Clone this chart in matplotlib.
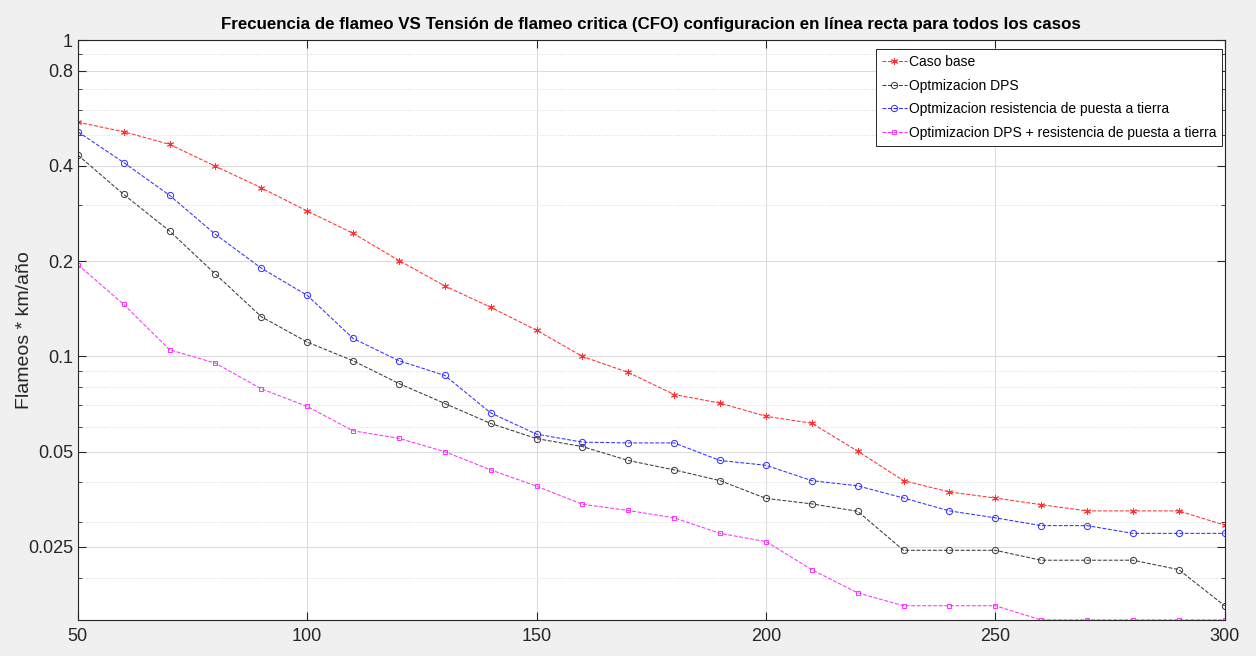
import matplotlib.pyplot as plt
import numpy as np
from matplotlib.ticker import FixedLocator, LogLocator, NullFormatter

# CFO values (kV) on x, flashover rate on y
cfo = [50, 60, 70, 80, 90, 100, 110, 120, 130, 140, 150, 160, 170,
       180, 190, 200, 210, 220, 230, 240, 250, 260, 270, 280, 290, 300]

caso_base = [0.550, 0.513, 0.468, 0.399, 0.341, 0.288, 0.245, 0.201, 0.167, 0.143,
             0.121, 0.100, 0.089, 0.0758, 0.0712, 0.0647, 0.0615, 0.0502, 0.0405,
             0.0373, 0.0357, 0.0340, 0.0325, 0.0325, 0.0325, 0.0293]
opt_dps = [0.433, 0.325, 0.249, 0.182, 0.1335, 0.111, 0.0969, 0.0821, 0.0710, 0.0614,
           0.0550, 0.0519, 0.0469, 0.0438, 0.0405, 0.0356, 0.0342, 0.0324, 0.0244,
           0.0244, 0.0244, 0.0227, 0.0227, 0.0227, 0.0212, 0.0163]
opt_rpt = [0.513, 0.410, 0.323, 0.243, 0.190, 0.156, 0.114, 0.0969, 0.0871, 0.0663,
           0.0568, 0.0536, 0.0533, 0.0533, 0.0469, 0.0453, 0.0405, 0.0390, 0.0357,
           0.0325, 0.0309, 0.0292, 0.0292, 0.0276, 0.0276, 0.0276]
opt_dps_rpt = [0.195, 0.146, 0.105, 0.0952, 0.0790, 0.0695, 0.0582, 0.0551, 0.0500,
               0.0438, 0.0389, 0.0341, 0.0326, 0.0309, 0.0276, 0.0260, 0.0212, 0.0179,
               0.0163, 0.0163, 0.0163, 0.0147, 0.0147, 0.0147, 0.0147, 0.0147]

labels = ["Caso base", "Optmizacion DPS", "Optmizacion resistencia de puesta a tierra",
          "Optimizacion DPS + resistencia de puesta a tierra"]
yticks = [0.025, 0.05, 0.1, 0.2, 0.4, 0.8, 1]
ytick_labels = ["0.025", "0.05", "0.1", "0.2", "0.4", "0.8", "1"]
xticks = [50, 100, 150, 200, 250, 300]

plt.rcParams["font.family"] = ["Liberation Sans", "DejaVu Sans"]

fig = plt.figure(figsize=(12.56, 6.56), dpi=100, facecolor="#f0f0f0")
ax = fig.add_axes([0.062, 0.055, 0.913, 0.884])

asterisk = (6, 2, 0)
ax.plot(cfo, caso_base, "--", marker=asterisk, color="#ff3030", lw=0.75, ms=5, mew=0.7, label=labels[0])
ax.plot(cfo, opt_dps, "--o", color="#3a3a3a", lw=0.75, ms=4.5, mfc="none", mew=0.7, label=labels[1])
ax.plot(cfo, opt_rpt, "--o", color="#3030ff", lw=0.75, ms=4.5, mfc="none", mew=0.7, label=labels[2])
ax.plot(cfo, opt_dps_rpt, "--s", color="#ff30ff", lw=0.75, ms=3.5, mfc="none", mew=0.7, label=labels[3])

ax.set_yscale("log")
ax.set_xlim(50, 300)
ax.set_ylim(min(opt_dps_rpt), 1)
ax.yaxis.set_major_locator(FixedLocator(yticks))
ax.set_yticklabels(ytick_labels)
ax.yaxis.set_minor_locator(LogLocator(base=10, subs=np.arange(2, 10)))
ax.yaxis.set_minor_formatter(NullFormatter())
ax.set_xticks(xticks)

ax.grid(True, which="major", color="#dcdcdc", lw=0.8)
ax.grid(True, which="minor", axis="y", color="#d8d8d8", lw=0.7, ls=":")
ax.set_axisbelow(True)

ax.tick_params(which="both", direction="in", top=True, right=True, colors="#262626",
               labelsize=13, labelcolor="#262626")
ax.tick_params(which="major", length=6)
ax.tick_params(which="minor", length=3)
ax.tick_params(axis="x", pad=6)
for s in ax.spines.values():
    s.set_color("#262626")
    s.set_linewidth(0.8)

ax.set_ylabel("Flameos * km/año", fontsize=14, color="#262626")
ax.yaxis.set_label_coords(-0.039, 0.5)
ax.set_title("Frecuencia de flameo VS Tensión de flameo critica (CFO) configuracion en línea recta para todos los casos",
             fontsize=12.2, fontweight="bold", pad=8)

leg = ax.legend(loc="upper right", bbox_to_anchor=(0.9975, 0.984), fontsize=10,
                frameon=True, fancybox=False, framealpha=1, edgecolor="#262626",
                handlelength=1.8, handletextpad=0.15, labelspacing=0.7, borderpad=0.4,
                borderaxespad=0)
leg.get_frame().set_linewidth(0.7)

fig.savefig("out.png", dpi=100, facecolor=fig.get_facecolor())
